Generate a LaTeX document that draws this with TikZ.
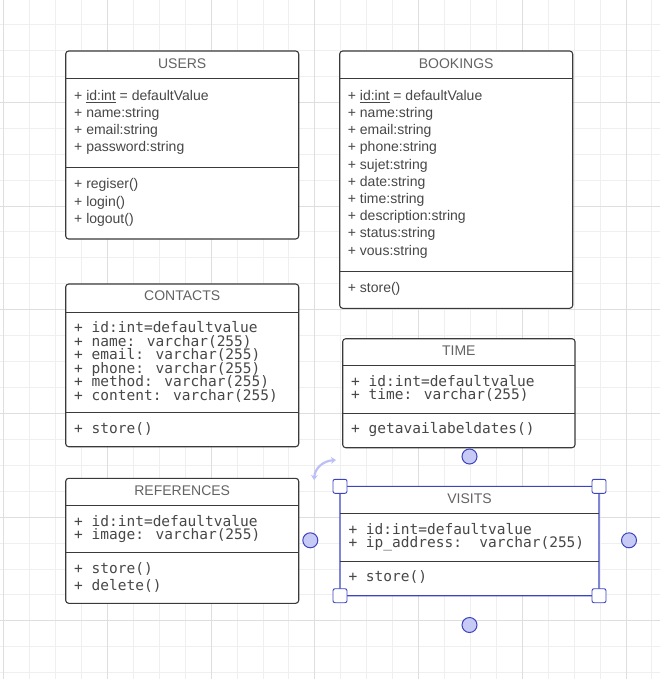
\documentclass[tikz,border=0pt]{standalone}
\usepackage{fontspec}
\setmainfont{Liberation Sans}
\newfontfamily\codefont{DejaVu Sans Mono}
\usetikzlibrary{arrows.meta}

\definecolor{gridminor}{HTML}{EFEFEF}
\definecolor{gridmajor}{HTML}{DEDEDE}
\definecolor{boxline}{HTML}{3A3A3A}
\definecolor{textgray}{HTML}{474747}
\definecolor{selblue}{HTML}{3D44C0}
\definecolor{selfill}{HTML}{C8CAF6}
\definecolor{rotblue}{HTML}{BDC0F4}

\begin{document}
\begin{tikzpicture}[x=1pt, y=-1pt,
    classbox/.style={draw=boxline, line width=1.1pt, rounded corners=3pt, fill=white},
    sepline/.style={draw=boxline, line width=1pt},
    title/.style={inner sep=0pt, text=textgray!85, font=\fontsize{14}{16}\selectfont},
    attr/.style={anchor=base west, inner sep=0pt, text=textgray, font=\fontsize{14}{16}\selectfont},
    code/.style={attr, font=\codefont\fontsize{14.5}{16}\selectfont},
    handle/.style={draw=selblue, fill=white, line width=0.9pt, rounded corners=2pt},
    knob/.style={circle, draw=selblue, fill=selfill, line width=1pt, minimum size=15pt, inner sep=0pt}]

    \useasboundingbox (0,0) rectangle (660,679);
    \fill[white] (0,0) rectangle (660,679);

    % grid
    \foreach \k in {0,...,25} {
        \draw[gridminor, line width=0.8pt] ({3.6+25.93*\k},0) -- ({3.6+25.93*\k},679);
    }
    \foreach \k in {1,...,26} {
        \draw[gridminor, line width=0.8pt] (0,{-1.5+25.93*\k}) -- (660,{-1.5+25.93*\k});
    }
    \foreach \k in {0,4,...,24} {
        \draw[gridmajor, line width=0.8pt] ({3.6+25.93*\k},0) -- ({3.6+25.93*\k},679);
    }
    \foreach \k in {4,8,...,24} {
        \draw[gridmajor, line width=0.8pt] (0,{-1.5+25.93*\k}) -- (660,{-1.5+25.93*\k});
    }

    % USERS
    \draw[classbox] (65.7,51) rectangle (298.7,239);
    \draw[sepline] (65.7,78.3) -- (298.7,78.3);
    \draw[sepline] (65.7,167.7) -- (298.7,167.7);
    \node[title] (users) at (182.2,63.3) {USERS};
    \foreach \t [count=\i] in {{+ \underline{id:int} = defaultValue}, + name:string, + email:string, + password:string}
        \node[attr] (users-a\i) at (74,{100.2+17.2*(\i-1)}) {\t};
    \foreach \t [count=\i] in {+ regiser(), + login(), + logout()}
        \node[attr] (users-m\i) at (74,{188.8+17.2*(\i-1)}) {\t};

    % BOOKINGS
    \draw[classbox] (339.7,51) rectangle (572.7,308.3);
    \draw[sepline] (339.7,78.3) -- (572.7,78.3);
    \draw[sepline] (339.7,271.7) -- (572.7,271.7);
    \node[title] (bookings) at (456.2,63.3) {BOOKINGS};
    \foreach \t [count=\i] in {{+ \underline{id:int} = defaultValue}, + name:string, + email:string, + phone:string, + sujet:string, + date:string, + time:string, + description:string, + status:string, + vous:string}
        \node[attr] (bookings-a\i) at (347.7,{100.2+17.2*(\i-1)}) {\t};
    \node[attr] (bookings-m1) at (347.7,292.8) {+ store()};

    % CONTACTS
    \draw[classbox] (65.7,284) rectangle (298.7,446.7);
    \draw[sepline] (65.7,312) -- (298.7,312);
    \draw[sepline] (65.7,412.7) -- (298.7,412.7);
    \node[title] (contacts) at (182.2,295.7) {CONTACTS};
    \foreach \t [count=\i] in {+ id:int=defaultvalue, + name: varchar(255), + email: varchar(255), + phone: varchar(255), + method: varchar(255), + content: varchar(255)}
        \node[code] (contacts-a\i) at (74,{332.8+13.5*(\i-1)}) {\t};
    \node[code] (contacts-m1) at (74,433.5) {+ store()};

    % TIME
    \draw[classbox] (342.7,338.7) rectangle (575,447.7);
    \draw[sepline] (342.7,365.7) -- (575,365.7);
    \draw[sepline] (342.7,413.3) -- (575,413.3);
    \node[title] (time) at (458.8,350.7) {TIME};
    \node[code] (time-a1) at (351,386.5) {+ id:int=defaultvalue};
    \node[code] (time-a2) at (351,399.8) {+ time: varchar(255)};
    \node[code] (time-m1) at (351,433.8) {+ getavailabeldates()};

    % REFERENCES
    \draw[classbox] (65.7,478.3) rectangle (298.7,603.3);
    \draw[sepline] (65.7,505.3) -- (298.7,505.3);
    \draw[sepline] (65.7,552.7) -- (298.7,552.7);
    \node[title] (references) at (182.2,490.7) {REFERENCES};
    \node[code] (references-a1) at (74,526.2) {+ id:int=defaultvalue};
    \node[code] (references-a2) at (74,539.5) {+ image: varchar(255)};
    \node[code] (references-m1) at (74,573.8) {+ store()};
    \node[code] (references-m2) at (74,590.2) {+ delete()};

    % VISITS (selected)
    \draw[classbox, draw=selblue] (340,486.3) rectangle (599,595.7);
    \draw[sepline] (340,513.7) -- (599,513.7);
    \draw[sepline] (340,561) -- (599,561);
    \node[title] (visits) at (469.5,498.3) {VISITS};
    \node[code] (visits-a1) at (348.3,534.0) {+ id:int=defaultvalue};
    \node[code] (visits-a2) at (348.3,547.6) {+ ip\_address:\ \ varchar(255)};
    \node[code] (visits-m1) at (348.3,581.2) {+ store()};

    % selection handles
    \foreach \p in {(340,486.3), (599,486.3), (340,595.7), (599,595.7)}
        \draw[handle] \p ++(-7,-7) rectangle ++(14,14);
    \node[knob] (knob-n) at (469.5,456.5) {};
    \node[knob] (knob-w) at (310.3,540.3) {};
    \node[knob] (knob-e) at (629,540.3) {};
    \node[knob] (knob-s) at (469.5,625) {};
    \draw[rotblue, line width=2.2pt, {Stealth[length=5pt,width=7pt]}-{Stealth[length=5pt,width=7pt]}]
        (314,480) .. controls (315,468) and (323,461) .. (336,460);
\end{tikzpicture}
\end{document}
